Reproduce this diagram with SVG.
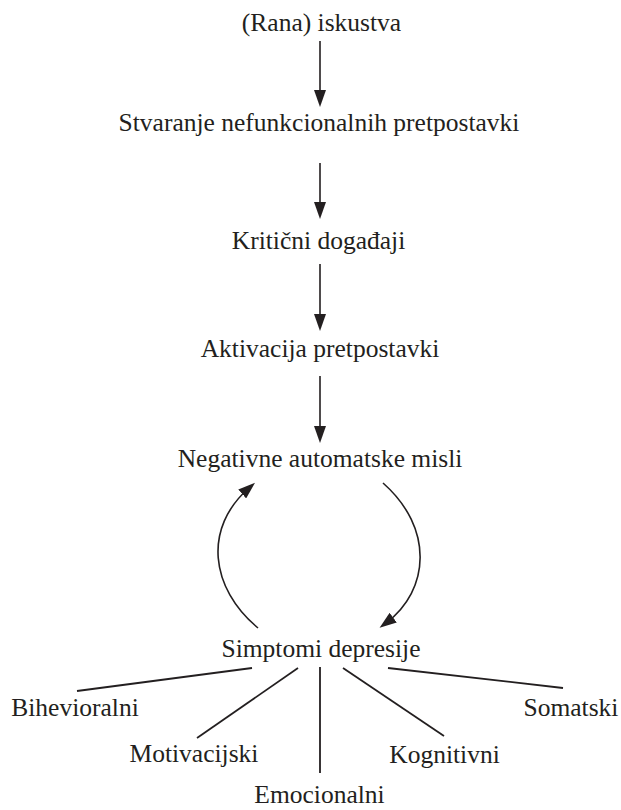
<svg xmlns="http://www.w3.org/2000/svg" width="621" height="810" viewBox="0 0 621 810">
<style>
text{font-family:"Liberation Serif","Times New Roman",serif;font-size:25.5px;fill:#231f20;text-anchor:middle}
.c{fill:none;stroke:#231f20;stroke-width:1.6}
.l{fill:none;stroke:#231f20;stroke-width:1.8}
</style>
<defs>
<marker id="ah" markerUnits="userSpaceOnUse" markerWidth="17" markerHeight="12" viewBox="0 0 17 12" refX="9" refY="6" orient="auto">
<path d="M0,0 L17,6 L0,12 z" fill="#231f20"/>
</marker>
</defs>
<rect width="621" height="810" fill="#ffffff"/>
<g id="connectors">
<line class="c" x1="320" y1="41" x2="320" y2="99" marker-end="url(#ah)"/>
<line class="c" x1="320" y1="163" x2="320" y2="211" marker-end="url(#ah)"/>
<line class="c" x1="320" y1="264" x2="320" y2="323" marker-end="url(#ah)"/>
<line class="c" x1="320" y1="376" x2="320" y2="435" marker-end="url(#ah)"/>
<path class="c" d="M258,628 C210,588 203,528 249,488" marker-end="url(#ah)"/>
<path class="c" d="M383,483 C434,528 430,590 386,623" marker-end="url(#ah)"/>
<line class="l" x1="252" y1="668" x2="77" y2="691"/>
<line class="l" x1="298" y1="668" x2="197" y2="738"/>
<line class="l" x1="320" y1="667" x2="320" y2="773"/>
<line class="l" x1="343" y1="668" x2="444" y2="736"/>
<line class="l" x1="388" y1="668" x2="563" y2="688"/>
</g>
<g id="n1"><text x="321.5" y="31">(Rana) iskustva</text></g>
<g id="n2"><text x="319" y="131">Stvaranje nefunkcionalnih pretpostavki</text></g>
<g id="n3"><text x="318.5" y="249">Kritični događaji</text></g>
<g id="n4"><text x="320" y="357">Aktivacija pretpostavki</text></g>
<g id="n5"><text x="320" y="467">Negativne automatske misli</text></g>
<g id="n6"><text x="321" y="657">Simptomi depresije</text></g>
<g id="n7"><text x="75" y="716">Bihevioralni</text></g>
<g id="n8"><text x="194" y="762">Motivacijski</text></g>
<g id="n9"><text x="319.5" y="803">Emocionalni</text></g>
<g id="n10"><text x="444.5" y="763">Kognitivni</text></g>
<g id="n11"><text x="571" y="716">Somatski</text></g>
</svg>
